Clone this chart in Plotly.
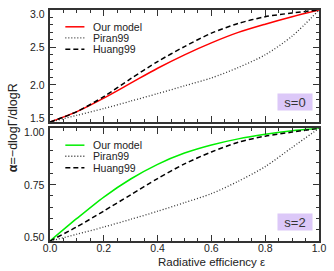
import plotly.graph_objects as go

eps = [0.0, 0.1, 0.2, 0.3, 0.4, 0.5, 0.6, 0.7, 0.8, 0.9, 1.0]

# s = 0 panel
our_s0 = [1.50, 1.64, 1.82, 2.02, 2.22, 2.40, 2.56, 2.70, 2.81, 2.91, 3.00]
piran_s0 = [1.50, 1.59, 1.68, 1.78, 1.88, 1.985, 2.09, 2.23, 2.40, 2.65, 3.00]
huang_s0 = [1.50, 1.64, 1.84, 2.08, 2.31, 2.51, 2.69, 2.82, 2.91, 2.96, 3.00]

# s = 2 panel
our_s2 = [0.50, 0.60, 0.695, 0.775, 0.840, 0.890, 0.926, 0.953, 0.973, 0.989, 1.00]
piran_s2 = [0.50, 0.53, 0.562, 0.596, 0.632, 0.67, 0.71, 0.765, 0.83, 0.915, 1.00]
huang_s2 = [0.50, 0.563, 0.633, 0.705, 0.777, 0.842, 0.895, 0.938, 0.965, 0.983, 1.00]

legend_names = ["Our model", "Piran99", "Huang99"]
panel_labels = ["s=0", "s=2"]
x_ticks = [0.0, 0.2, 0.4, 0.6, 0.8, 1.0]
y_ticks_s0 = [1.5, 2.0, 2.5, 3.0]
y_ticks_s2 = [0.50, 0.75, 1.00]

FONT = "Liberation Sans, Arial, sans-serif"
AX = "#333333"
TXT = "#222222"

fig = go.Figure()

def add_panel(xa, ya, ours, piran, huang, col):
    fig.add_trace(go.Scatter(x=eps, y=ours, mode="lines", line=dict(color=col, width=1.5, shape="spline", smoothing=0.8),
                             xaxis=xa, yaxis=ya, showlegend=False))
    fig.add_trace(go.Scatter(x=eps, y=piran, mode="lines", line=dict(color="#333333", width=1.3, dash="1px,2px", shape="spline", smoothing=0.8),
                             xaxis=xa, yaxis=ya, showlegend=False))
    fig.add_trace(go.Scatter(x=eps, y=huang, mode="lines", line=dict(color="black", width=1.5, dash="5px,3px", shape="spline", smoothing=0.8),
                             xaxis=xa, yaxis=ya, showlegend=False))

add_panel("x", "y", our_s0, piran_s0, huang_s0, "#ff0000")
add_panel("x2", "y2", our_s2, piran_s2, huang_s2, "#00ee00")

common_x = dict(range=[0, 1], ticks="inside", ticklen=6, tickwidth=1, tickcolor=AX,
                showline=True, linecolor=AX, linewidth=1.5, mirror="ticks",
                showgrid=False, zeroline=False, tickvals=x_ticks,
                minor=dict(ticks="inside", ticklen=3, dtick=0.05, tickcolor=AX, showgrid=False),
                tickfont=dict(family=FONT, size=10.5, color=TXT))
common_y = dict(ticks="inside", ticklen=6, tickwidth=1, tickcolor=AX,
                showline=True, linecolor=AX, linewidth=1.5, mirror="ticks",
                showgrid=False, zeroline=False, showticklabels=False)

fig.update_layout(
    width=334, height=271,
    margin=dict(l=50, r=13, t=8, b=30),
    paper_bgcolor="white", plot_bgcolor="white",
    xaxis=dict(common_x, anchor="y", showticklabels=False),
    yaxis=dict(common_y, domain=[0.515, 1.0], range=[1.5, 3.0], tickvals=y_ticks_s0,
               minor=dict(ticks="inside", ticklen=3, dtick=0.1, tickcolor=AX, showgrid=False)),
    xaxis2=dict(common_x, anchor="y2", tickformat=".1f", ticklabelstandoff=-3),
    yaxis2=dict(common_y, domain=[0.0, 0.488], range=[0.5, 1.0], tickvals=y_ticks_s2,
                minor=dict(ticks="inside", ticklen=3, dtick=0.05, tickcolor=AX, showgrid=False)),
)

# y tick labels (end labels nudged inward like the original)
for yr, ticks, fmt in [("y", y_ticks_s0, "{:.1f}"), ("y2", y_ticks_s2, "{:.2f}")]:
    lo, hi = min(ticks), max(ticks)
    for v in ticks:
        shift = -4 if v == hi else (4 if v == lo else 0)
        fig.add_annotation(xref="x domain" if yr == "y" else "x2 domain", yref=yr, x=0, y=v,
                           text=fmt.format(v), showarrow=False, xanchor="right", yanchor="middle",
                           xshift=-3, yshift=shift, font=dict(family=FONT, size=10.5, color=TXT))

# legends drawn per panel
leg_rows = [0.850, 0.752, 0.650]
styles = [None, dict(color="#333333", width=1.3, dash="1px,2px"), dict(color="black", width=1.5, dash="5px,3px")]
for (xr, yr, col) in [("x", "y domain", "#ff0000"), ("x2", "y2 domain", "#00ee00")]:
    for i, name in enumerate(legend_names):
        st = styles[i] if styles[i] else dict(color=col, width=1.5)
        fig.add_shape(type="line", xref=xr, yref=yr, x0=0.057, x1=0.128, y0=leg_rows[i], y1=leg_rows[i], line=st)
        fig.add_annotation(xref=xr, yref=yr, x=0.155, y=leg_rows[i], text=name, showarrow=False,
                           xanchor="left", yanchor="middle", borderpad=0,
                           font=dict(family=FONT, size=10.5, color=TXT))

for (xr, yr, lab, yy) in [("x", "y domain", panel_labels[0], 0.18), ("x2", "y2 domain", panel_labels[1], 0.165)]:
    fig.add_annotation(xref=xr, yref=yr, x=0.912, y=yy, text=lab, showarrow=False,
                       xanchor="center", yanchor="middle", bgcolor="#dcc8f8",
                       width=32, height=14, font=dict(family=FONT, size=13, color="#333333"))

fig.add_annotation(xref="paper", yref="paper", x=-0.14, y=0.49, text="<b>α</b>=−dlogΓ/dlogR", textangle=-90,
                   showarrow=False, xanchor="center", yanchor="middle",
                   font=dict(family=FONT, size=12.5, color=TXT))

fig.add_annotation(xref="x2", yref="paper", x=0.6, y=0, yshift=-21, text="Radiative efficiency ε",
                   showarrow=False, xanchor="center", yanchor="middle", borderpad=0,
                   font=dict(family=FONT, size=11.5, color=TXT))

fig.write_html("out.html", config={"displayModeBar": False},
               post_script="document.body.style.margin='0';document.body.style.overflow='hidden';")
